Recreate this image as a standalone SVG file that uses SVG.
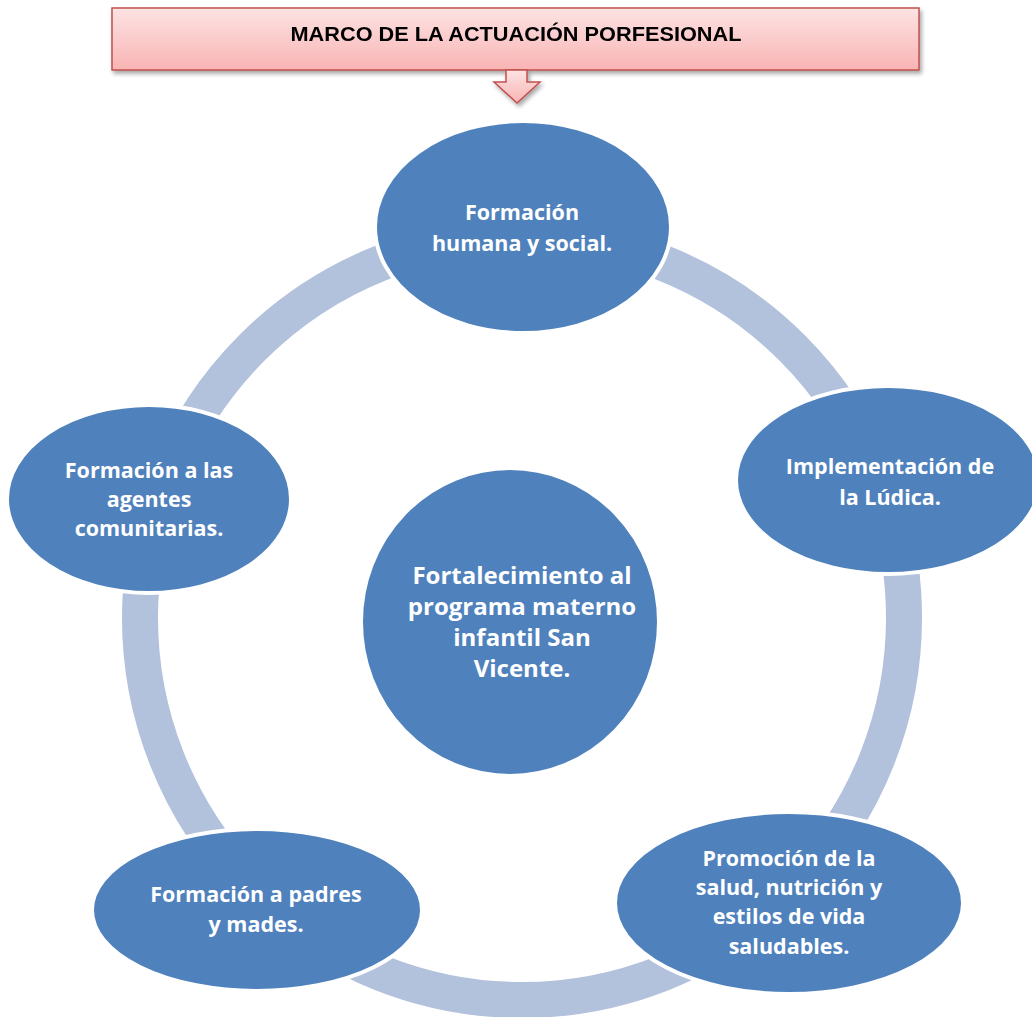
<svg xmlns="http://www.w3.org/2000/svg" width="1032" height="1017" viewBox="0 0 1032 1017">
<defs>
<linearGradient id="pink" x1="0" y1="0" x2="0" y2="1">
<stop offset="0" stop-color="#fde3e3"/>
<stop offset="1" stop-color="#f9b4b4"/>
</linearGradient>
<filter id="sh" x="-5%" y="-20%" width="110%" height="150%">
<feDropShadow dx="2" dy="3" stdDeviation="2" flood-color="#000" flood-opacity="0.35"/>
</filter>
</defs>
<style>
.node{fill:#4f81bd;stroke:#ffffff;stroke-width:4}
.lbl{font-family:"Open Sans","Liberation Sans",sans-serif;font-weight:bold;fill:#ffffff;text-anchor:middle;font-size:21.5px}
.big{font-size:24px}
.ring{fill:none;stroke:#b2c1dc;stroke-width:36}
.hdr{font-family:"Liberation Sans",Arial,sans-serif;font-weight:bold;fill:#000;text-anchor:middle}
</style>
<rect width="1032" height="1017" fill="#ffffff"/>
<g id="connectors">
<circle class="ring" cx="522" cy="618" r="382"/>
</g>
<g id="header" filter="url(#sh)">
<rect x="112" y="8" width="807" height="62" fill="url(#pink)" stroke="#c0504d" stroke-width="1.5"/>
<path d="M506,70 L527,70 L527,82 L540,82 L517,103 L494,82 L506,82 Z" fill="url(#pink)" stroke="#c0504d" stroke-width="1.5"/>
<text class="hdr" x="516" y="41" font-size="21" textLength="451" lengthAdjust="spacingAndGlyphs">MARCO DE LA ACTUACIÓN PORFESIONAL</text>
</g>
<g id="n-top">
<ellipse class="node" cx="523" cy="227" rx="148" ry="106"/>
<text class="lbl" x="522" y="220">Formación</text>
<text class="lbl" x="522" y="251">humana y social.</text>
</g>
<g id="n-right">
<ellipse class="node" cx="888" cy="480" rx="152" ry="94"/>
<text class="lbl" x="890" y="474">Implementación de</text>
<text class="lbl" x="890" y="505">la Lúdica.</text>
</g>
<g id="n-bottomright">
<ellipse class="node" cx="789" cy="903" rx="174" ry="91"/>
<text class="lbl" x="789" y="866">Promoción de la</text>
<text class="lbl" x="789" y="895">salud, nutrición y</text>
<text class="lbl" x="789" y="924">estilos de vida</text>
<text class="lbl" x="789" y="954">saludables.</text>
</g>
<g id="n-bottomleft">
<ellipse class="node" cx="257" cy="910" rx="165" ry="81"/>
<text class="lbl" x="256" y="902">Formación a padres</text>
<text class="lbl" x="256" y="932">y mades.</text>
</g>
<g id="n-left">
<ellipse class="node" cx="149" cy="499" rx="142" ry="94"/>
<text class="lbl" x="149" y="478">Formación a las</text>
<text class="lbl" x="149" y="507">agentes</text>
<text class="lbl" x="149" y="536">comunitarias.</text>
</g>
<g id="n-center">
<ellipse class="node" cx="510" cy="622" rx="149" ry="154"/>
<text class="lbl big" x="522" y="584">Fortalecimiento al</text>
<text class="lbl big" x="522" y="615">programa materno</text>
<text class="lbl big" x="522" y="646">infantil San</text>
<text class="lbl big" x="522" y="677">Vicente.</text>
</g>
</svg>
